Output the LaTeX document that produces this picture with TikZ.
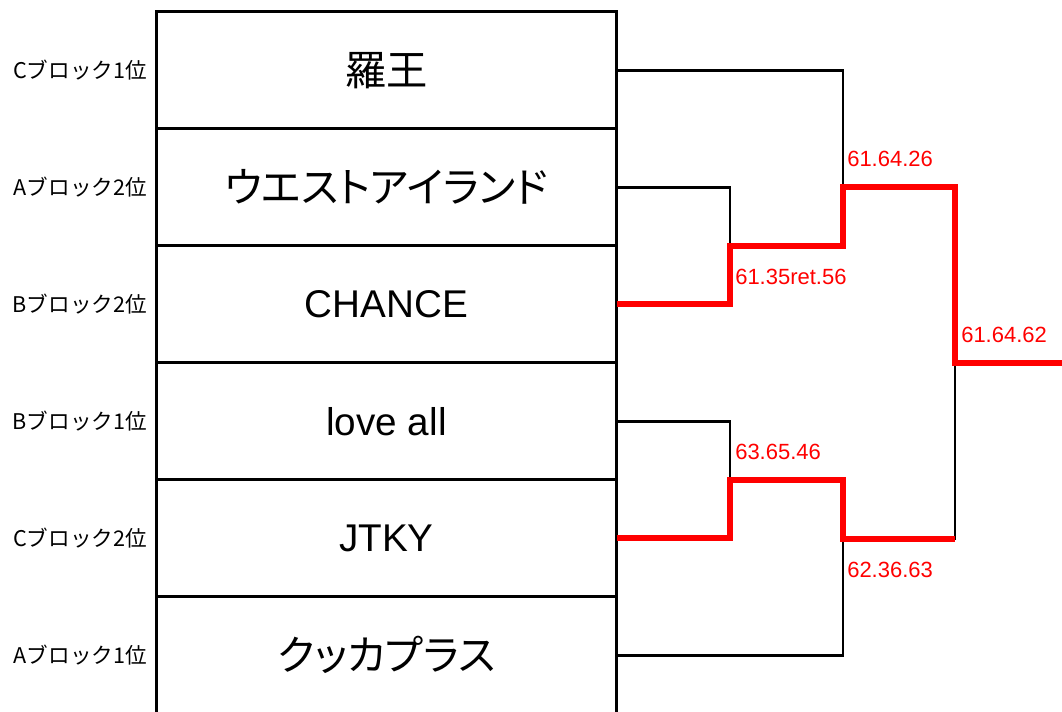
\documentclass[tikz,border=0pt]{standalone}
\usepackage{fontspec}
\setmainfont{Liberation Sans}
\newfontfamily\jpfont{Noto Sans CJK JP}
\newfontfamily\jppfont{Noto Sans CJK JP}[RawFeature=+palt]
\newcommand{\jpname}[1]{{\jppfont\fontsize{31}{32}\selectfont #1}}
\usetikzlibrary{positioning}
\definecolor{winred}{RGB}{255,0,0}
\begin{document}
\begin{tikzpicture}
[x=0.75pt,y=-0.75pt,%
  cellDecorate/.style={draw,line width=2pt,minimum width=345pt,minimum height=87.75pt,inner sep=0pt,outer sep=0pt,font=\fontsize{29}{30}\selectfont},%
  rankDecorate/.style={inner sep=0pt,font=\jpfont\fontsize{16.2}{17}\selectfont},%
  lineDecorate/.style={-,line width=2.2pt},%
  winDecorate/.style={-,line width=4.5pt,draw=winred},%
  scoreDecorate/.style={inner sep=0pt,anchor=base west,text=winred,font=\fontsize{16.5}{17}\selectfont}]
\useasboundingbox (0,0) rectangle (1062,712);
%% team cells and block ranks
\foreach \i/\team/\rank in {
  1/{\jpname{羅王}}/{Cブロック1位}, 2/{\jpname{ウエストアイランド}}/{Aブロック2位},
  3/{CHANCE}/{Bブロック2位}, 4/{love all}/{Bブロック1位},
  5/{JTKY}/{Cブロック2位}, 6/{\jpname{クッカプラス}}/{Aブロック1位}}
{
  \node[cellDecorate] (t\i) at (386.5,{117*\i-46.8}) {\team};
  \node[rankDecorate,left=7pt of t\i] (r\i) {\rank};
}
%% joins of the bracket
\coordinate (q1) at (730,246);
\coordinate (q2) at (730,480);
\coordinate (s1) at (843,187);
\coordinate (s2) at (843,539);
\coordinate (f) at (955,363);
\coordinate (champ) at (1062,363);
%% losing lines
\draw[lineDecorate] (t1.east) -| (s1);
\draw[lineDecorate] (t2.east) -| (q1);
\draw[lineDecorate] (t4.east) -| (q2);
\draw[lineDecorate] (t6.east) -| (s2);
\draw[lineDecorate] (s2) -| (f);
%% winning lines
\draw[winDecorate] (t3.east) -| (q1) -| (s1) -| (f) -- (champ);
\draw[winDecorate] (t5.east) -| (q2) -| (s2) -- (s2 -| f);
%% scores
\node[scoreDecorate] (sc1) at (847,167) {61.64.26};
\node[scoreDecorate] (sc2) at (735,285) {61.35ret.56};
\node[scoreDecorate] (sc3) at (961,343) {61.64.62};
\node[scoreDecorate] (sc4) at (735,459) {63.65.46};
\node[scoreDecorate] (sc5) at (847,577) {62.36.63};
\end{tikzpicture}
\end{document}
